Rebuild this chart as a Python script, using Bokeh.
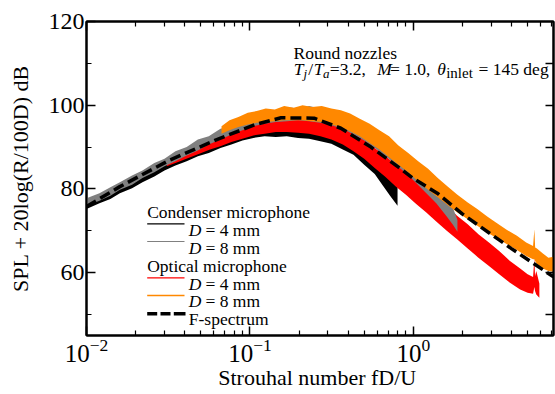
from bokeh.plotting import figure
from bokeh.models import Range1d, LogAxis, LinearAxis, FixedTicker, Label, BoxAnnotation, LogTickFormatter
from bokeh.embed import file_html
from bokeh.resources import INLINE

# ---------------- data: spectra drawn as noise bands ----------------
# Condenser microphone, D = 4 mm (black)
black_x = [0.010, 0.012, 0.014, 0.016, 0.019, 0.022, 0.026, 0.030, 0.035, 0.041, 0.048, 0.056,
           0.066, 0.077, 0.090, 0.105, 0.123, 0.144, 0.168, 0.197, 0.230, 0.270, 0.315, 0.370,
           0.430, 0.500, 0.580, 0.650, 0.720, 0.800]
black_hi = [77.0, 78.6, 79.4, 81.0, 82.2, 83.8, 84.8, 86.8, 87.6, 89.2, 89.8, 91.4,
            92.0, 93.6, 94.0, 95.2, 95.2, 95.8, 95.0, 95.6, 94.8, 95.0, 93.8, 93.4,
            91.6, 90.6, 88.0, 87.0, 84.2, 82.0]
black_lo = [75.2, 76.6, 77.6, 79.0, 80.2, 81.6, 83.0, 84.4, 85.6, 86.6, 87.8, 88.6,
            89.8, 90.6, 91.6, 92.2, 92.6, 92.4, 92.6, 92.2, 92.0, 91.4, 90.8, 89.4,
            88.2, 85.8, 83.6, 80.8, 78.4, 76.0]

# Condenser microphone, D = 8 mm (gray)
gray_x = [0.010, 0.012, 0.014, 0.016, 0.019, 0.022, 0.026, 0.030, 0.035, 0.041, 0.048, 0.056,
          0.066, 0.077, 0.090, 0.105, 0.123, 0.144, 0.168, 0.197, 0.230, 0.270, 0.315, 0.370,
          0.430, 0.500, 0.580, 0.670, 0.780, 0.900, 1.040, 1.200, 1.380, 1.600, 1.750, 1.860]
gray_hi = [77.8, 79.0, 80.4, 81.6, 83.2, 84.4, 86.2, 87.2, 89.0, 90.0, 91.8, 92.6,
           94.4, 95.0, 96.6, 97.0, 98.4, 98.8, 99.6, 99.2, 99.8, 99.2, 99.0, 98.0,
           97.4, 95.6, 94.2, 92.0, 90.6, 88.2, 86.4, 83.6, 81.0, 77.6, 75.4, 72.6]
gray_lo = [76.0, 77.2, 78.4, 79.8, 81.0, 82.6, 84.0, 85.4, 86.6, 88.0, 89.2, 90.6,
           91.8, 93.0, 94.0, 95.0, 95.6, 96.0, 96.2, 96.4, 96.2, 95.8, 95.2, 94.4,
           93.0, 91.6, 89.8, 88.0, 85.8, 83.8, 81.4, 79.0, 76.6, 73.4, 71.4, 69.8]

# Optical microphone, D = 4 mm (red)
red_x = [0.031, 0.036, 0.042, 0.049, 0.057, 0.066, 0.077, 0.090, 0.105, 0.123, 0.144, 0.168,
         0.197, 0.230, 0.270, 0.315, 0.370, 0.430, 0.500, 0.580, 0.670, 0.780, 0.900, 1.040,
         1.200, 1.380, 1.600, 1.850, 2.150, 2.500, 2.900, 3.350, 3.900, 4.500, 5.000, 5.400,
         5.500, 5.550, 5.650, 5.900]
red_hi = [87.4, 88.6, 89.6, 90.8, 91.6, 92.8, 93.6, 94.8, 95.6, 96.4, 96.8, 97.0,
          97.4, 97.0, 96.8, 96.2, 95.4, 94.0, 92.6, 89.8, 88.0, 85.8, 84.2, 82.2,
          80.4, 78.0, 76.2, 73.6, 71.6, 69.2, 67.2, 65.2, 62.8, 61.0, 59.6, 59.0,
          63.6, 59.2, 60.4, 57.4]
red_lo = [85.4, 86.4, 87.4, 88.4, 89.4, 90.2, 91.2, 92.0, 92.8, 93.2, 93.6, 93.6,
          93.4, 93.2, 92.6, 91.8, 90.6, 89.0, 87.2, 85.0, 83.0, 80.6, 78.6, 76.4,
          74.4, 72.2, 70.0, 68.0, 65.8, 63.6, 61.6, 59.6, 57.6, 56.0, 55.2, 55.0,
          56.6, 55.6, 54.8, 54.0]

# Optical microphone, D = 8 mm (orange)
orange_x = [0.067, 0.075, 0.085, 0.097, 0.110, 0.125, 0.142, 0.162, 0.185, 0.210, 0.240, 0.275,
            0.315, 0.360, 0.410, 0.470, 0.540, 0.620, 0.710, 0.810, 0.930, 1.070, 1.230, 1.410,
            1.620, 1.860, 2.140, 2.460, 2.830, 3.250, 3.740, 4.300, 4.900, 5.400, 5.500, 5.560,
            5.700, 6.200, 6.700, 7.200]
orange_hi = [95.0, 96.4, 97.2, 98.2, 98.6, 99.2, 99.0, 99.8, 99.4, 100.0, 99.6, 99.8,
             99.2, 98.8, 98.0, 96.8, 95.6, 94.0, 92.6, 90.4, 88.6, 86.6, 84.8, 82.6,
             80.6, 78.6, 76.8, 75.2, 73.4, 71.8, 70.2, 68.8, 67.2, 66.4, 70.4, 66.0,
             65.8, 64.6, 63.6, 63.8]
orange_lo = [93.2, 94.0, 94.8, 95.4, 95.8, 96.0, 96.2, 96.4, 96.4, 96.4, 96.2, 96.0,
             95.4, 94.8, 93.8, 92.6, 91.0, 89.4, 87.6, 85.8, 84.0, 81.8, 79.8, 78.0,
             76.2, 74.4, 72.8, 71.2, 69.6, 68.2, 66.8, 65.4, 64.0, 63.2, 63.2, 62.8,
             62.0, 61.0, 60.4, 60.2]

# F-spectrum (black dashed)
fspec_x = [0.010, 0.0159, 0.0323, 0.0655, 0.110, 0.155, 0.247, 0.360, 0.550, 0.810, 1.000,
           1.400, 2.000, 4.000, 7.200]
fspec_y = [75.8, 80.5, 86.9, 92.1, 95.5, 97.0, 96.9, 94.5, 90.0, 85.2, 82.5, 79.0, 74.0, 65.7, 59.0]

x_major_ticks = [0.01, 0.1, 1.0]
y_major_ticks = [60, 80, 100, 120]
y_minor_ticks = [50, 70, 90, 110]
y_right_ticks = [50, 60, 70, 80, 90, 100, 110]

SERIF = "Liberation Serif"

# ---------------- figure ----------------
W, H = 555, 394
ML, MR, MT, MB = 86, 2, 21, 59
p = figure(width=W, height=H, x_axis_type="log",
           x_range=Range1d(0.01, 7.2), y_range=Range1d(45, 120),
           output_backend="svg", toolbar_location=None,
           min_border_left=ML, min_border_right=MR, min_border_top=MT, min_border_bottom=MB)
p.grid.visible = False
p.outline_line_color = "black"
p.outline_line_width = 2
p.background_fill_color = "white"
p.border_fill_color = "white"

# picture-pixel -> frame-relative screen units
FL, FB = ML, H - MB


def sx(px):
    return px - FL


def sy(py):
    return FB - py


x_minor = [m * 10.0 ** e for e in (-2, -1, 0) for m in range(2, 10)]

xa = p.xaxis[0]
xa.ticker = FixedTicker(ticks=x_major_ticks, minor_ticks=x_minor)
xa.formatter = LogTickFormatter()
ya = p.yaxis[0]
ya.ticker = FixedTicker(ticks=y_major_ticks, minor_ticks=y_minor_ticks)

top = LogAxis(ticker=FixedTicker(ticks=x_major_ticks, minor_ticks=x_minor))
right = LinearAxis(ticker=FixedTicker(ticks=y_right_ticks, minor_ticks=[]))
p.add_layout(top, "above")
p.add_layout(right, "right")

for ax in (xa, ya, top, right):
    ax.axis_line_color = "black"
    ax.axis_line_width = 2
    ax.major_tick_in = 9
    ax.major_tick_out = 0
    ax.minor_tick_in = 5
    ax.minor_tick_out = 0
    ax.major_tick_line_color = "black"
    ax.minor_tick_line_color = "black"
    ax.major_tick_line_width = 1.5
    ax.minor_tick_line_width = 1.2
for ax in (top, right):
    ax.major_label_text_font_size = "1px"
    ax.major_label_text_color = None
    ax.major_label_standoff = 0
right.major_tick_in = 8

ya.major_label_text_font = SERIF
ya.major_label_text_font_size = "24px"
ya.major_label_text_color = "black"
ya.major_label_standoff = 2
ya.axis_label = "SPL + 20log(R/100D) dB"
ya.axis_label_text_font = SERIF
ya.axis_label_text_font_size = "22px"
ya.axis_label_text_font_style = "normal"
ya.axis_label_text_color = "black"
ya.axis_label_standoff = 13

xa.major_label_text_font = SERIF
xa.major_label_text_font_size = "25px"
xa.major_label_text_color = "black"
xa.major_label_standoff = 3
xa.axis_label = "Strouhal number  fD/U"
xa.axis_label_text_font = SERIF
xa.axis_label_text_font_size = "22px"
xa.axis_label_text_font_style = "normal"
xa.axis_label_text_color = "black"
xa.axis_label_standoff = 0

# ---------------- data bands ----------------
p.varea(x=black_x, y1=black_lo, y2=black_hi, fill_color="black")
p.varea(x=red_x, y1=red_lo, y2=red_hi, fill_color="#ff0000")
p.varea(x=gray_x, y1=gray_lo, y2=gray_hi, fill_color="#808080")
p.varea(x=orange_x, y1=orange_lo, y2=orange_hi, fill_color="#ff8800")
p.line(fspec_x, fspec_y, line_color="black", line_width=3.5, line_dash="11 5")


def label(text, px, py, size, style="normal", align="left", color="black"):
    p.add_layout(Label(x=sx(px), y=sy(py), x_units="screen", y_units="screen", text=text,
                       text_font=SERIF, text_font_size=f"{size}px", text_font_style=style,
                       text_align=align, text_baseline="alphabetic", text_color=color))


# annotation
label("Round nozzles", 293, 52.7, 17.5)
label("T", 293.3, 68.3, 17.5, "italic")
label("j", 303.0, 72.5, 13, "italic")
label("/", 307.8, 68.3, 17.5)
label("T", 313.3, 68.3, 17.5, "italic")
label("a", 322.6, 72.5, 13, "italic")
label("=3.2,", 329.3, 68.3, 17.5)
label("M", 376.7, 68.3, 17.5, "italic")
label("= 1.0,", 389.5, 68.3, 17.5)
label("\u03b8", 436.7, 68.3, 17.5, "italic")
label("inlet", 445.7, 72.7, 15)
label("= 145 deg", 478.0, 68.3, 17.5)

# legend (manual)


def swatch(x0, x1, yc, h, color):
    p.add_layout(BoxAnnotation(left=sx(x0), right=sx(x1), top=sy(yc - h / 2), bottom=sy(yc + h / 2),
                               left_units="screen", right_units="screen",
                               top_units="screen", bottom_units="screen",
                               fill_color=color, fill_alpha=1.0, line_color=None))


label("Condenser microphone", 146.7, 211.7, 17.5)
swatch(146.7, 184, 223.3, 1.2, "black")
label("D", 188.3, 229.3, 17.5, "italic")
label("= 4 mm", 205.0, 229.3, 17.5)
swatch(146.7, 184, 241, 1.2, "#808080")
label("D", 188.3, 247.3, 17.5, "italic")
label("= 8 mm", 205.0, 247.3, 17.5)
label("Optical microphone", 146.7, 265, 17.5)
swatch(146.7, 184, 277.3, 1.2, "#ff0000")
label("D", 188.3, 283.3, 17.5, "italic")
label("= 4 mm", 205.0, 283.3, 17.5)
swatch(146.7, 184, 295, 1.5, "#ff8800")
label("D", 188.3, 300.7, 17.5, "italic")
label("= 8 mm", 205.0, 300.7, 17.5)
for a, b in ((146.7, 156.7), (160.0, 170.0), (173.3, 185.0)):
    swatch(a, b, 313.3, 3.5, "black")
label("F-spectrum", 188.3, 318.3, 17.5)

open("out.html", "w").write(file_html(p, INLINE))
